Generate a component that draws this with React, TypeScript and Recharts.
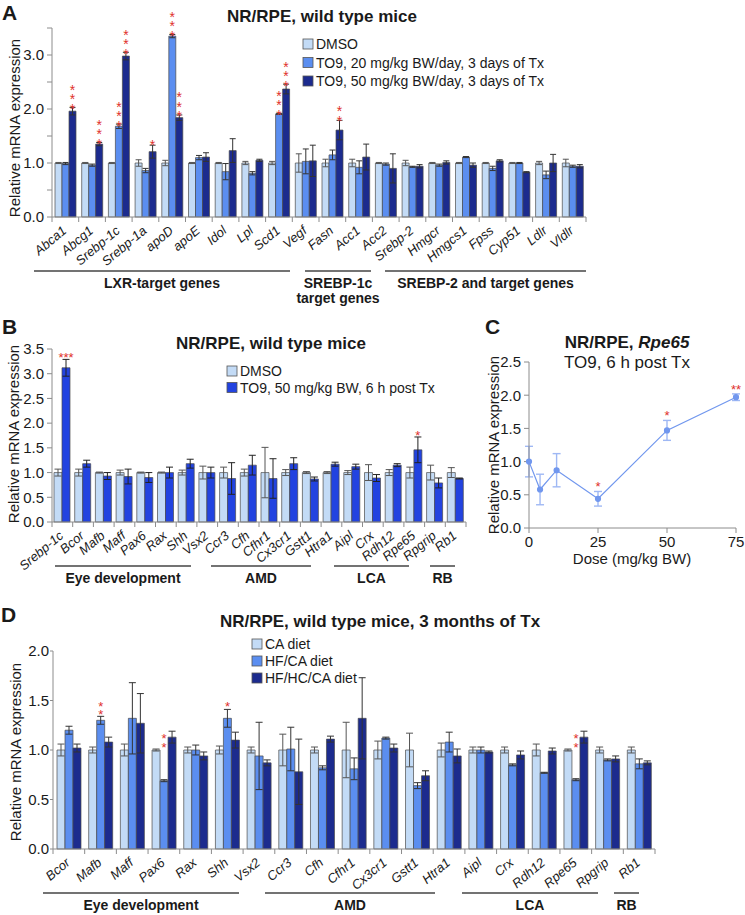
import React from 'react';
import { BarChart, Bar, XAxis, YAxis, ErrorBar, LabelList, LineChart, Line } from 'recharts';

// ---- Panel A: 3 days of TO9 ----
const genesA = ['Abca1', 'Abcg1', 'Srebp-1c', 'Srebp-1a', 'apoD', 'apoE', 'Idol', 'Lpl', 'Scd1', 'Vegf', 'Fasn', 'Acc1', 'Acc2', 'Srebp-2', 'Hmgcr', 'Hmgcs1', 'Fpss', 'Cyp51', 'Ldlr', 'Vldlr'];
const dmsoA = [1, 1, 1, 1, 1, 1, 1, 1, 1, 1, 1, 1, 1, 1, 1, 1, 1, 1, 1, 1];
const dmsoAErr = [0.01, 0.01, 0.01, 0.06, 0.05, 0.01, 0.01, 0.03, 0.03, 0.17, 0.07, 0.07, 0.01, 0.05, 0.01, 0.01, 0.01, 0.01, 0.03, 0.07];
const lowA = [0.99, 0.96, 1.68, 0.86, 3.35, 1.1, 0.84, 0.81, 1.91, 1.03, 1.15, 0.92, 0.98, 0.93, 0.96, 1.11, 0.9, 1.0, 0.78, 0.94];
const lowAErr = [0.02, 0.02, 0.04, 0.04, 0.03, 0.04, 0.15, 0.03, 0.01, 0.23, 0.09, 0.12, 0.02, 0.01, 0.02, 0.01, 0.04, 0.01, 0.07, 0.02];
const highA = [1.96, 1.35, 2.98, 1.21, 1.84, 1.11, 1.23, 1.05, 2.37, 1.04, 1.61, 1.11, 0.9, 0.94, 1.01, 0.96, 1.04, 0.83, 1.0, 0.94];
const highAErr = [0.07, 0.03, 0.07, 0.12, 0.05, 0.08, 0.22, 0.02, 0.09, 0.29, 0.18, 0.24, 0.27, 0.03, 0.03, 0.04, 0.02, 0.01, 0.16, 0.03];
const starsLowA = [0, 0, 3, 0, 3, 0, 0, 0, 3, 0, 0, 0, 0, 0, 0, 0, 0, 0, 0, 0];
const starsHighA = [3, 3, 3, 1, 3, 0, 0, 0, 3, 0, 2, 0, 0, 0, 0, 0, 0, 0, 0, 0];
const legendA = ['DMSO', 'TO9, 20 mg/kg BW/day, 3 days of Tx', 'TO9, 50 mg/kg BW/day, 3 days of Tx'];
const ticksA = [0, 0.5, 1, 1.5, 2, 2.5, 3, 3.5];

// ---- Panel B: 6 h after TO9 ----
const genesB = ['Srebp-1c', 'Bcor', 'Mafb', 'Maff', 'Pax6', 'Rax', 'Shh', 'Vsx2', 'Ccr3', 'Cfh', 'Cfhr1', 'Cx3cr1', 'Gstt1', 'Htra1', 'Aipl', 'Crx', 'Rdh12', 'Rpe65', 'Rpgrip', 'Rb1'];
const dmsoB = [1, 1, 1, 1, 1, 1, 1, 1, 1, 1, 1, 1, 1, 1, 1, 1, 1, 1, 1, 1];
const dmsoBErr = [0.07, 0.07, 0.01, 0.05, 0.01, 0.01, 0.05, 0.13, 0.11, 0.07, 0.51, 0.06, 0.02, 0.02, 0.04, 0.16, 0.06, 0.11, 0.15, 0.1];
const to9B = [3.12, 1.18, 0.93, 0.92, 0.9, 1.0, 1.18, 1.0, 0.88, 1.15, 0.88, 1.18, 0.87, 1.17, 1.12, 0.89, 1.15, 1.46, 0.79, 0.88];
const to9BErr = [0.17, 0.07, 0.07, 0.15, 0.1, 0.11, 0.09, 0.11, 0.32, 0.2, 0.4, 0.12, 0.04, 0.04, 0.05, 0.07, 0.03, 0.26, 0.1, 0.01];
const starsB = [3, 0, 0, 0, 0, 0, 0, 0, 0, 0, 0, 0, 0, 0, 0, 0, 0, 1, 0, 0];
const legendB = ['DMSO', 'TO9, 50 mg/kg BW, 6 h post Tx'];
const ticksB = [0, 0.5, 1, 1.5, 2, 2.5, 3, 3.5];

// ---- Panel C: Rpe65 dose response ----
const dosesC = [0, 4, 10, 25, 50, 75];
const rpe65C = [1.0, 0.58, 0.87, 0.44, 1.47, 1.97];
const rpe65CErr = [0.23, 0.23, 0.25, 0.11, 0.15, 0.05];
const starsC = [0, 0, 0, 1, 1, 2];
const ticksCx = [0, 25, 50, 75];
const ticksCy = [0, 0.5, 1, 1.5, 2, 2.5];

// ---- Panel D: 3 months of diet ----
const genesD = ['Bcor', 'Mafb', 'Maff', 'Pax6', 'Rax', 'Shh', 'Vsx2', 'Ccr3', 'Cfh', 'Cfhr1', 'Cx3cr1', 'Gstt1', 'Htra1', 'Aipl', 'Crx', 'Rdh12', 'Rpe65', 'Rpgrip', 'Rb1'];
const caD = [1, 1, 1, 1, 1, 1, 1, 1, 1, 1, 1, 1, 1, 1, 1, 1, 1, 1, 1];
const caDErr = [0.06, 0.03, 0.06, 0.01, 0.03, 0.04, 0.03, 0.16, 0.03, 0.28, 0.09, 0.17, 0.07, 0.03, 0.03, 0.06, 0.01, 0.03, 0.03];
const hfD = [1.2, 1.3, 1.32, 0.69, 1.0, 1.32, 0.94, 1.01, 0.82, 0.81, 1.12, 0.64, 1.08, 1.0, 0.85, 0.77, 0.7, 0.9, 0.86];
const hfDErr = [0.04, 0.04, 0.36, 0.01, 0.05, 0.09, 0.34, 0.22, 0.02, 0.11, 0.01, 0.03, 0.1, 0.03, 0.01, 0.005, 0.01, 0.01, 0.05];
const hhcD = [1.02, 1.08, 1.27, 1.13, 0.94, 1.1, 0.87, 0.78, 1.11, 1.32, 1.02, 0.74, 0.94, 0.98, 0.95, 0.99, 1.13, 0.91, 0.87];
const hhcDErr = [0.04, 0.05, 0.3, 0.06, 0.04, 0.08, 0.03, 0.33, 0.03, 0.41, 0.04, 0.05, 0.07, 0.01, 0.04, 0.03, 0.06, 0.03, 0.02];
const starsHfD = [0, 2, 0, 2, 0, 1, 0, 0, 0, 0, 0, 0, 0, 0, 0, 0, 2, 0, 0];
const legendD = ['CA diet', 'HF/CA diet', 'HF/HC/CA diet'];
const ticksD = [0, 0.5, 1, 1.5, 2];

const FONT = '"Liberation Sans", Arial, Helvetica, sans-serif';
const AXIS = '#8c8c8c';
const INK = '#1a1a1a';
const RED = '#e0302c';
const LIGHT = '#c3dbf6';
const MID = '#5b8ef0';
const DARK = '#1c2b8e';
const ROYAL = '#2243e0';
const LINEC = '#7197ee';

const tableA = genesA.map((g, i) => ({
  g, dmso: dmsoA[i], dmsoE: dmsoAErr[i], low: lowA[i], lowE: lowAErr[i], high: highA[i], highE: highAErr[i],
  sLow: starsLowA[i], sHigh: starsHighA[i],
}));
const tableB = genesB.map((g, i) => ({ g, dmso: dmsoB[i], dmsoE: dmsoBErr[i], to9: to9B[i], to9E: to9BErr[i], s: starsB[i] }));
const tableC = dosesC.map((d, i) => ({ d, v: rpe65C[i], e: rpe65CErr[i], top: rpe65C[i] + rpe65CErr[i], s: starsC[i] }));
const tableD = genesD.map((g, i) => ({
  g, ca: caD[i], caE: caDErr[i], hf: hfD[i], hfE: hfDErr[i], hhc: hhcD[i], hhcE: hhcDErr[i], s: starsHfD[i],
}));

// category axis with Excel-style ticks between the categories
const catTick = (step: number, count: number) => (props: any) => {
  const { x, y, payload, index } = props;
  const h = step / 2;
  return (
    <g>
      <line x1={x - h} x2={x - h} y1={y} y2={y + 5} stroke={AXIS} />
      {index === count - 1 && <line x1={x + h} x2={x + h} y1={y} y2={y + 5} stroke={AXIS} />}
      <text transform={`translate(${x + 2},${y + 15}) rotate(-40)`} textAnchor="end" fontSize={13} fontStyle="italic" fill={INK}>
        {payload.value}
      </text>
    </g>
  );
};

// stars above a bar's error bar: a vertical stack (one text, upright vertical writing) or a row
const barStars = (vals: number[], anchor: (i: number) => number, fs: number, gap: number, lift: number, row = false) => (props: any) => {
  const vb = props.viewBox && props.viewBox.width !== undefined ? props.viewBox : props;
  const n = Number(props.value);
  const i = props.index;
  if (!n || vals[i] === undefined) return null;
  const ppu = vb.height / vals[i];
  const zero = vb.y + vb.height;
  const top = zero - anchor(i) * ppu;
  const cx = vb.x + vb.width / 2;
  if (row) {
    return <text x={cx} y={top - lift + 0.58 * fs} textAnchor="middle" fontSize={fs} fill={RED}>{'*'.repeat(n)}</text>;
  }
  const y0 = top - lift - (n - 1) * gap - 0.325 * fs;
  return (
    <text x={cx} y={y0 + (n * gap) / 2} textAnchor="middle" fontSize={fs} fill={RED}
      style={{ writingMode: 'vertical-rl', textOrientation: 'upright', letterSpacing: gap - fs }}>
      {'*'.repeat(n)}
    </text>
  );
};

const lineStars = (props: any) => {
  const vb = props.viewBox && props.viewBox.x !== undefined ? props.viewBox : props;
  const n = Number(props.value);
  if (!n) return null;
  return <text x={vb.x} y={vb.y} textAnchor="middle" fontSize={13} fill={RED}>{'*'.repeat(n)}</text>;
};

const fmt1 = (v: number) => v.toFixed(1);
const yTick = { fontSize: 15, fill: INK };

const Legend = ({ x, y, names, colors, dy }: { x: number; y: number; names: string[]; colors: string[]; dy: number }) => (
  <g>
    {names.map((n, i) => (
      <g key={n}>
        <rect x={x} y={y + i * dy - 10} width={10} height={10} fill={colors[i]} stroke="#555" strokeWidth={0.8} />
        <text x={x + 13} y={y + i * dy} fontSize={14} fill={INK}>{n}</text>
      </g>
    ))}
  </g>
);

const Group = ({ x1, x2, y, label, sub }: { x1: number; x2: number; y: number; label: string; sub?: string }) => (
  <g>
    <line x1={x1} x2={x2} y1={y} y2={y} stroke="#444" strokeWidth={1.5} />
    <text x={(x1 + x2) / 2} y={y + 17} textAnchor="middle" fontSize={14} fontWeight="bold" fill={INK}>{label}</text>
    {sub && <text x={(x1 + x2) / 2} y={y + 32} textAnchor="middle" fontSize={14} fontWeight="bold" fill={INK}>{sub}</text>}
  </g>
);

const YLabel = ({ x, y }: { x: number; y: number }) => (
  <text transform={`translate(${x},${y}) rotate(-90)`} textAnchor="middle" dominantBaseline="central" fontSize={15} fill={INK}>
    Relative mRNA expression
  </text>
);

export default function App() {
  const barStroke = { stroke: '#4a4a4a', strokeWidth: 0.7 };
  return (
    <div style={{ position: 'absolute', left: 0, top: 0, width: 745, height: 915, background: '#fff', fontFamily: FONT, overflow: 'hidden' }}>
      {/* A */}
      <div style={{ position: 'absolute', left: 0, top: 0 }}>
        <BarChart width={600} height={300} data={tableA} margin={{ top: 28, right: 14, left: 0, bottom: 23 }} barSize={7} barGap={0}>
          <XAxis dataKey="g" interval={0} height={60} stroke={AXIS} tickLine={false} tickSize={0} tickMargin={0} tick={catTick(534 / 20, 20)} />
          <YAxis width={52} domain={[0, 3.5]} ticks={ticksA} interval={0} stroke={AXIS} tickSize={5} tickMargin={3}
            tick={yTick} tickFormatter={(v: number) => (Number.isInteger(v) && v <= 3 ? fmt1(v) : '')} />
          <Bar dataKey="dmso" fill={LIGHT} {...barStroke} isAnimationActive={false}>
            <ErrorBar dataKey="dmsoE" width={3} stroke="#555" strokeWidth={1} isAnimationActive={false} />
          </Bar>
          <Bar dataKey="low" fill={MID} {...barStroke} isAnimationActive={false}>
            <ErrorBar dataKey="lowE" width={3} stroke="#333" strokeWidth={1} isAnimationActive={false} />
            <LabelList dataKey="sLow" content={barStars(lowA, (i) => lowA[i] + lowAErr[i], 14, 7.5, 3)} />
          </Bar>
          <Bar dataKey="high" fill={DARK} {...barStroke} isAnimationActive={false}>
            <ErrorBar dataKey="highE" width={3} stroke="#333" strokeWidth={1} isAnimationActive={false} />
            <LabelList dataKey="sHigh" content={barStars(highA, (i) => highA[i] + highAErr[i], 14, 7.5, 3)} />
          </Bar>
        </BarChart>
      </div>

      {/* B */}
      <div style={{ position: 'absolute', left: 0, top: 300 }}>
        <BarChart width={480} height={300} data={tableB} margin={{ top: 49, right: 14, left: 0, bottom: 18 }} barSize={8} barGap={0}>
          <XAxis dataKey="g" interval={0} height={60} stroke={AXIS} tickLine={false} tickSize={0} tickMargin={0} tick={catTick(414 / 20, 20)} />
          <YAxis width={52} domain={[0, 3.5]} ticks={ticksB} interval={0} stroke={AXIS} tickSize={5} tickMargin={3} tick={yTick} tickFormatter={fmt1} />
          <Bar dataKey="dmso" fill={LIGHT} {...barStroke} isAnimationActive={false}>
            <ErrorBar dataKey="dmsoE" width={3.5} stroke="#555" strokeWidth={1} isAnimationActive={false} />
          </Bar>
          <Bar dataKey="to9" fill={ROYAL} {...barStroke} isAnimationActive={false}>
            <ErrorBar dataKey="to9E" width={3.5} stroke="#222" strokeWidth={1} isAnimationActive={false} />
            <LabelList dataKey="s" content={barStars(to9B, (i) => to9B[i] + to9BErr[i], 13, 0, 5, true)} />
          </Bar>
        </BarChart>
      </div>

      {/* C */}
      <div style={{ position: 'absolute', left: 470, top: 300 }}>
        <LineChart width={275} height={280} data={tableC} margin={{ top: 62, right: 9, left: 0, bottom: 22 }}>
          <XAxis dataKey="d" type="number" domain={[0, 75]} ticks={ticksCx} interval={0} height={30} stroke={AXIS} tickSize={5} tickMargin={3} tick={yTick} />
          <YAxis width={59} domain={[0, 2.5]} ticks={ticksCy} interval={0} stroke={AXIS} tickSize={5} tickMargin={3} tick={yTick} tickFormatter={fmt1} />
          <Line dataKey="v" type="linear" stroke={LINEC} strokeWidth={1.2} dot={{ r: 2.5, fill: LINEC, stroke: LINEC }} activeDot={false} isAnimationActive={false}>
            <ErrorBar dataKey="e" width={4} stroke="#9fb8f4" strokeWidth={1.4} isAnimationActive={false} />
          </Line>
          <Line dataKey="top" stroke="none" dot={false} activeDot={false} isAnimationActive={false}>
            <LabelList dataKey="s" content={lineStars} />
          </Line>
        </LineChart>
      </div>

      {/* D */}
      <div style={{ position: 'absolute', left: 0, top: 570 }}>
        <BarChart width={680} height={345} data={tableD} margin={{ top: 81, right: 25, left: 0, bottom: 6 }} barSize={8} barGap={0}>
          <XAxis dataKey="g" interval={0} height={60} stroke={AXIS} tickLine={false} tickSize={0} tickMargin={0} tick={catTick(602 / 19, 19)} />
          <YAxis width={53} domain={[0, 2]} ticks={ticksD} interval={0} stroke={AXIS} tickSize={3} tickMargin={1} tick={yTick} tickFormatter={fmt1} />
          <Bar dataKey="ca" fill={LIGHT} {...barStroke} isAnimationActive={false}>
            <ErrorBar dataKey="caE" width={3.5} stroke="#555" strokeWidth={1} isAnimationActive={false} />
          </Bar>
          <Bar dataKey="hf" fill={MID} {...barStroke} isAnimationActive={false}>
            <ErrorBar dataKey="hfE" width={3.5} stroke="#333" strokeWidth={1} isAnimationActive={false} />
            <LabelList dataKey="s" content={barStars(hfD, (i) => Math.max(hfD[i] + hfDErr[i], caD[i] + caDErr[i]), 13, 6.5, 5)} />
          </Bar>
          <Bar dataKey="hhc" fill={DARK} {...barStroke} isAnimationActive={false}>
            <ErrorBar dataKey="hhcE" width={3.5} stroke="#333" strokeWidth={1} isAnimationActive={false} />
          </Bar>
        </BarChart>
      </div>

      {/* titles, legends, gene groups */}
      <svg width={745} height={915} style={{ position: 'absolute', left: 0, top: 0, pointerEvents: 'none' }} fontFamily={FONT}>
        <text x={2} y={20} fontSize={21} fontWeight="bold" fill={INK}>A</text>
        <text x={2} y={334} fontSize={21} fontWeight="bold" fill={INK}>B</text>
        <text x={485} y={334} fontSize={21} fontWeight="bold" fill={INK}>C</text>
        <text x={1} y={622} fontSize={21} fontWeight="bold" fill={INK}>D</text>

        <text x={322} y={22} textAnchor="middle" fontSize={17} fontWeight="bold" fill={INK}>NR/RPE, wild type mice</text>
        <text x={271} y={349} textAnchor="middle" fontSize={17} fontWeight="bold" fill={INK}>NR/RPE, wild type mice</text>
        <text x={627} y={348} textAnchor="middle" fontSize={17} fontWeight="bold" fill={INK}>
          NR/RPE, <tspan fontStyle="italic">Rpe65</tspan>
        </text>
        <text x={627} y={368} textAnchor="middle" fontSize={17} fill={INK}>TO9, 6 h post Tx</text>
        <text x={380} y={627} textAnchor="middle" fontSize={17} fontWeight="bold" fill={INK}>NR/RPE, wild type mice, 3 months of Tx</text>

        <YLabel x={14} y={128} />
        <YLabel x={13} y={434} />
        <YLabel x={493} y={445} />
        <YLabel x={15} y={752} />
        <text x={632} y={564} textAnchor="middle" fontSize={15} fill={INK}>Dose (mg/kg BW)</text>

        <Legend x={303} y={49} dy={18.5} names={legendA} colors={[LIGHT, MID, DARK]} />
        <Legend x={227} y={376} dy={16.5} names={legendB} colors={[LIGHT, ROYAL]} />
        <Legend x={252} y={649} dy={17} names={legendD} colors={[LIGHT, MID, DARK]} />

        <Group x1={34} x2={290} y={271} label="LXR-target genes" />
        <Group x1={305} x2={371} y={271} label="SREBP-1c" sub="target genes" />
        <Group x1={385} x2={586} y={271} label="SREBP-2 and target genes" />

        <Group x1={55} x2={191} y={566} label="Eye development" />
        <Group x1={211} x2={311} y={566} label="AMD" />
        <Group x1={334} x2={409} y={566} label="LCA" />
        <Group x1={430} x2={455} y={566} label="RB" />

        <Group x1={43} x2={239} y={893} label="Eye development" />
        <Group x1={265} x2={435} y={893} label="AMD" />
        <Group x1={462} x2={598} y={893} label="LCA" />
        <Group x1={614} x2={639} y={893} label="RB" />
      </svg>
    </div>
  );
}
